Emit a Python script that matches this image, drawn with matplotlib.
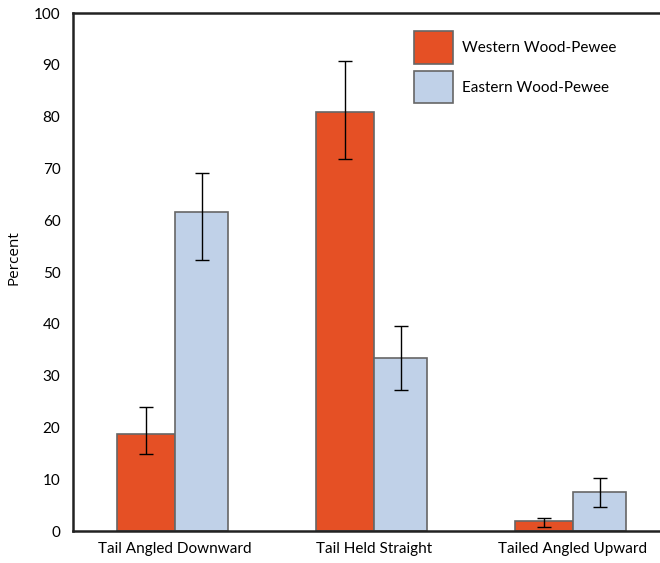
import numpy as np
import matplotlib.pyplot as plt

# tail posture of wood-pewees
categories = ['Tail Angled Downward', 'Tail Held Straight', 'Tailed Angled Upward']
western = [18.8, 80.9, 1.9]
western_lo = [14.9, 71.8, 0.8]
western_hi = [24.0, 90.7, 2.5]
eastern = [61.5, 33.5, 7.5]
eastern_lo = [52.4, 27.3, 4.6]
eastern_hi = [69.2, 39.5, 10.3]
series_names = ['Western Wood-Pewee', 'Eastern Wood-Pewee']

plt.rcParams['font.family'] = ['Lato', 'DejaVu Sans']

fig = plt.figure(figsize=(6.6, 5.63), dpi=100)
ax = fig.add_axes([0.1106, 0.0568, 0.8894, 0.920])

x = np.arange(len(categories))
w_west = 0.293
w_east = 0.268

err_w = [np.array(western) - np.array(western_lo), np.array(western_hi) - np.array(western)]
err_e = [np.array(eastern) - np.array(eastern_lo), np.array(eastern_hi) - np.array(eastern)]

ax.bar(x - w_west / 2, western, w_west, color='#E55025', edgecolor='#666666',
       linewidth=1.2, label=series_names[0], zorder=2)
ax.bar(x + w_east / 2, eastern, w_east, color='#C0D1E8', edgecolor='#666666',
       linewidth=1.2, label=series_names[1], zorder=2)
ax.errorbar(x - w_west / 2, western, yerr=err_w, fmt='none', ecolor='black',
            elinewidth=1, capsize=5, capthick=1, zorder=3)
ax.errorbar(x + w_east / 2, eastern, yerr=err_e, fmt='none', ecolor='black',
            elinewidth=1, capsize=5, capthick=1, zorder=3)

ax.set_xlim(-0.513, 2.437)
ax.set_ylim(0, 100)
ax.set_yticks(range(0, 101, 10))
ax.set_xticks(x)
ax.set_xticklabels(categories, fontsize=11)
ax.tick_params(axis='both', length=0, labelsize=11)
ax.tick_params(axis='x', pad=8)
ax.tick_params(axis='y', pad=9)
ax.set_ylabel('Percent', fontsize=11, family=['Open Sans', 'DejaVu Sans'])
ax.yaxis.set_label_coords(-0.087, 0.527)

for s in ['top', 'left', 'bottom']:
    ax.spines[s].set_linewidth(1.8)
    ax.spines[s].set_color('#222222')
ax.spines['right'].set_visible(False)

leg = ax.legend(loc='upper left', bbox_to_anchor=(0.557, 0.991), frameon=False,
                fontsize=11, handlelength=2.55, handleheight=2.9,
                labelspacing=0.45, handletextpad=0.6)

fig.savefig('out.png')
